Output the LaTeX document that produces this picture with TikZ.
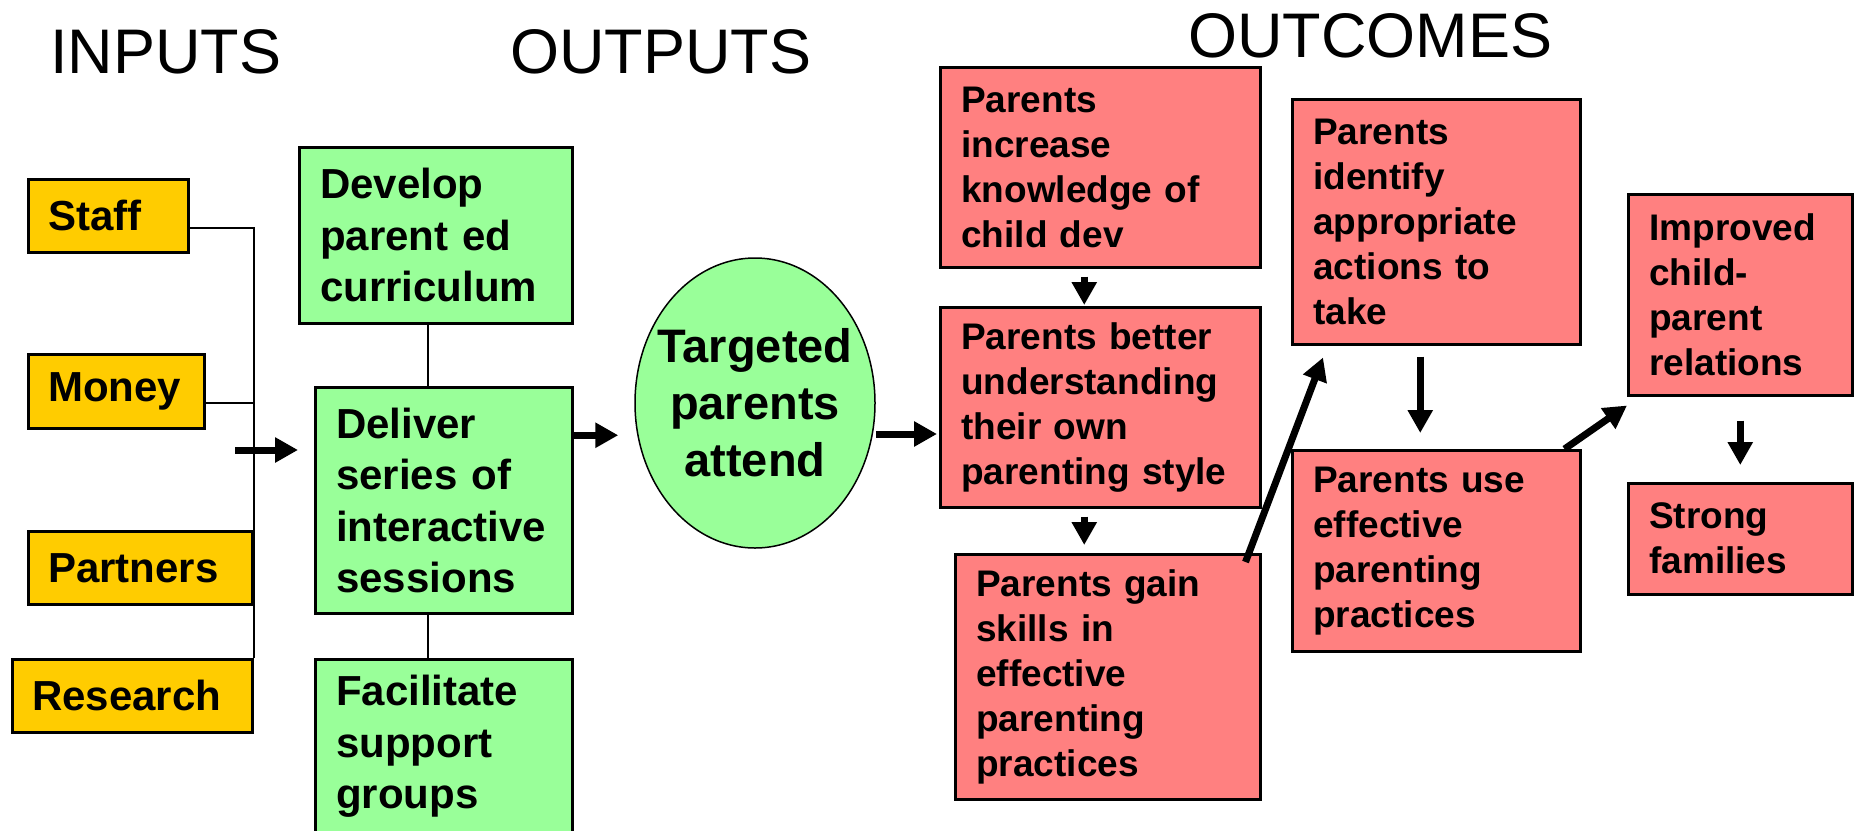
\documentclass[tikz,border=0pt]{standalone}
\usepackage{fontspec}
\setmainfont{Liberation Sans}
\usetikzlibrary{arrows.meta,shapes.geometric}
\definecolor{inyellow}{HTML}{FFCC00}
\definecolor{outgreen}{HTML}{99FF99}
\definecolor{outcpink}{HTML}{FF8080}
\begin{document}
\begin{tikzpicture}[x=1pt,y=-1pt,
	inbox/.style={draw,fill=inyellow,line width=2.5pt,anchor=north west,inner xsep=20pt,align=left,font=\fontsize{42}{50}\selectfont\bfseries},
	gbox/.style={draw,fill=outgreen,line width=2.5pt,anchor=north west,inner xsep=21pt,align=left,font=\fontsize{42}{51.5}\selectfont\bfseries},
	pbox/.style={draw,fill=outcpink,line width=2.5pt,anchor=north west,inner xsep=21pt,align=left,font=\fontsize{37}{45}\selectfont\bfseries},
	head/.style={anchor=base west,inner sep=0pt,font=\fontsize{63}{70}\selectfont},
	link/.style={line width=2pt},
	bigarrow/.style={line width=7pt,-{Triangle[length=23pt,width=24pt]}}]
	\useasboundingbox (0,0) rectangle (1860,830);
	% headings
	\node[head] (hin) at (50,73) {INPUTS};
	\node[head] (hout) at (510,73) {OUTPUTS};
	\node[head] (hoc) at (1188,57) {OUTCOMES};
	% inputs
	\node[inbox,text width=120pt,minimum height=73pt] (staff) at (27,178) {Staff};
	\node[inbox,text width=136pt,minimum height=74pt] (money) at (27,353) {Money};
	\node[inbox,text width=184pt,minimum height=73pt] (partners) at (27,530) {Partners};
	\node[inbox,text width=200pt,minimum height=73pt] (research) at (11,658) {Research};
	\draw[link] ([yshift=-12pt]staff.east) -| (research.north east);
	\draw[link] ([yshift=-12pt]money.east) -- ([yshift=-12pt]money.east -| research.north east);
	% outputs
	\node[gbox,text width=231pt,minimum height=176pt] (develop) at (298,146) {Develop\\parent ed\\curriculum};
	\node[gbox,text width=215pt,minimum height=226pt] (deliver) at (314,386) {Deliver\\series of\\interactive\\sessions};
	\node[gbox,text width=215pt,minimum height=174pt] (facil) at (314,658) {Facilitate\\support\\groups};
	\draw[link] ([xshift=-7.5pt]develop.south) -- ([xshift=-7.5pt]develop.south |- deliver.north);
	\draw[link] ([xshift=-15.5pt]deliver.south) -- ([xshift=-15.5pt]deliver.south |- facil.north);
	\coordinate (busin) at (235,450);
	\draw[bigarrow] (busin) -- ([xshift=-16pt]busin -| deliver.west);
	\node[ellipse,draw,fill=outgreen,line width=1.5pt,minimum width=240pt,minimum height=290pt,inner xsep=-20pt,inner ysep=0pt,align=center,font=\fontsize{47}{57}\selectfont\bfseries] (target) at (755,403) {Targeted\\parents\\attend};
	\draw[bigarrow] ([yshift=65pt]deliver.east) -- ([yshift=65pt,xshift=-16pt]deliver.east -| target.west);
	% outcomes
	\node[pbox,text width=278pt,minimum height=200pt] (know) at (939,66) {Parents\\increase\\knowledge of\\child dev};
	\node[pbox,text width=278pt,minimum height=200pt] (better) at (939,306) {Parents better\\understanding\\their own\\parenting style};
	\node[pbox,text width=263pt,minimum height=245pt] (gain) at (954,553) {Parents gain\\skills in\\effective\\parenting\\practices};
	\node[pbox,text width=246pt,minimum height=245pt] (identify) at (1291,98) {Parents\\identify\\appropriate\\actions to\\take};
	\node[pbox,text width=246pt,minimum height=201pt] (use) at (1291,449) {Parents use\\effective\\parenting\\practices};
	\node[pbox,text width=182pt,minimum height=201pt] (improved) at (1627,193) {Improved\\child-\\parent\\relations};
	\node[pbox,text width=182pt,minimum height=111pt] (strong) at (1627,482) {Strong\\families};
	\draw[bigarrow] ([yshift=-31pt]target.east) -- ([yshift=-31pt,xshift=-2pt]target.east -| better.west);
	\draw[bigarrow] ([xshift=-16pt,yshift=-8pt]know.south) -- ([xshift=-16pt,yshift=1pt]know.south |- better.north);
	\draw[bigarrow] ([xshift=-16pt,yshift=-8pt]better.south) -- ([xshift=-16pt,yshift=8pt]better.south |- gain.north);
	\draw[bigarrow] ([xshift=-16pt,yshift=-9pt]gain.north east) -- ([xshift=32pt,yshift=-12pt]identify.south west);
	\draw[bigarrow] ([xshift=-16pt,yshift=-11pt]identify.south) -- ([xshift=-16pt,yshift=16pt]identify.south |- use.north);
	\draw[bigarrow] ([xshift=-17pt]use.north east) -- ([yshift=-9pt]improved.south west);
	\draw[bigarrow] ([yshift=-24pt]improved.south) -- ([yshift=17pt]strong.north);
\end{tikzpicture}
\end{document}
